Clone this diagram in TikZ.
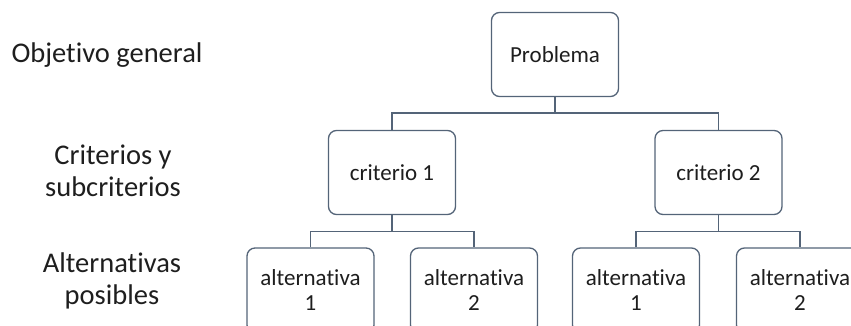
\documentclass[tikz,border=0pt]{standalone}
\usepackage{fontspec}
\setmainfont[Ligatures=NoCommon]{Carlito}
\definecolor{lineC}{RGB}{84,100,120}
\definecolor{txtC}{RGB}{30,30,30}
\begin{document}
\begin{tikzpicture}[x=1pt,y=1pt,
  box/.style={draw=lineC,line width=1.3pt,rounded corners=8pt,fill=white,
    minimum width=127pt,minimum height=84pt,inner sep=2pt,align=center,
    text=txtC,font=\fontsize{23}{25}\selectfont},
  lbl/.style={text=txtC,align=center,font=\fontsize{28.5}{32}\selectfont},
  conn/.style={draw=lineC,line width=1.3pt}]
\useasboundingbox (0,0) rectangle (851,326);
\clip (0,0) rectangle (851,326);
\node[lbl] (l1) at (107,271) {Objetivo general};
\node[lbl] (l2) at (113,155) {Criterios y\\subcriterios};
\node[lbl] (l3) at (112,45) {Alternativas\\posibles};
\node[box] (prob) at (555,271.5) {Problema};
\node[box] (c1) at (392,153.5) {criterio 1};
\node[box] (c2) at (718.5,153.5) {criterio 2};
\node[box,minimum height=85pt] (a1) at (310.5,35.5) {alternativa\\1};
\node[box,minimum height=85pt] (a2) at (474,35.5) {alternativa\\2};
\node[box,minimum height=85pt] (a3) at (636,35.5) {alternativa\\1};
\node[box,minimum height=85pt] (a4) at (800,35.5) {alternativa\\2};
\coordinate (b0) at (555,213);
\coordinate (b1) at (392,94.5);
\coordinate (b2) at (718.5,94.5);
\draw[conn] (prob.south) -- (b0);
\draw[conn] (c1.north) |- (b0) -| (c2.north);
\draw[conn] (c1.south) -- (b1);
\draw[conn] (a1.north) |- (b1) -| (a2.north);
\draw[conn] (c2.south) -- (b2);
\draw[conn] (a3.north) |- (b2) -| (a4.north);
\end{tikzpicture}
\end{document}
